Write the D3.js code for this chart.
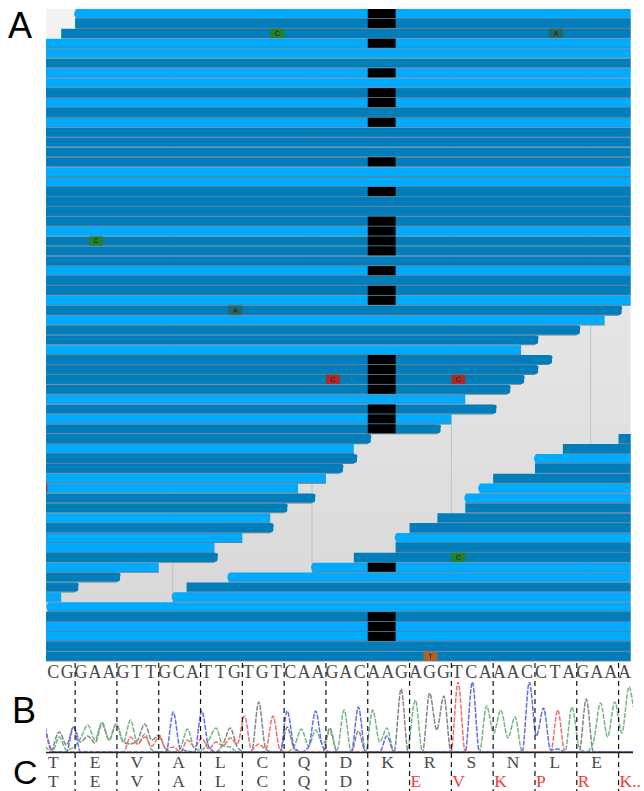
<!DOCTYPE html>
<html>
<head>
<meta charset="utf-8">
<script src="https://cdnjs.cloudflare.com/ajax/libs/d3/7.8.5/d3.min.js"></script>
<style>
  html, body { margin: 0; padding: 0; background: #fff; }
  svg { display: block; }
</style>
</head>
<body>
<div id="chart"></div>
<script>
// reference sequence under the alignment
const sequence = "CGGAAGTTGCATTGTGTCAAGACAAGAGGTCAAACCTAGAAA".split("");
const aminoRef = ["T","E","V","A","L","C","Q","D","K","R","S","N","L","E"];
const aminoMutBlack = ["T","E","V","A","L","C","Q","D"];
const aminoMutRed = ["E","V","K","P","R","K"];

// strand of the first read on each row, F = light, R = dark
const rowStrands = "FRRFFRFFRFRFRRRRFFRRRRFRRRFRRFRFRRFRRRRFRFRRFRRFFRRFRFFRFRRFFRFFRR".split("");
const rowStarts = [2, 2, 1];   // rows 0-2 start late, all others run off the left edge
rowStarts[60] = 0;

// rows 30-59: base where the first read stops
const firstEnds = [41,40,38,35,34,36,35,34,33,30,32,29,28,23,22,22,21,20,18,19,17,16,16,14,12,12,8,5,2,1];
// rows 43-59: base where the second read starts, and its strand
const secondStarts = [41,37,35,35,32,31,30,30,28,26,25,25,22,19,13,10,9];
const secondStrands = "RRFRRFFRRRFRRFFRF".split("");

// rows carrying the two base deletion
const deletionRows = [0,1,3,6,8,9,11,15,18,21,22,23,24,26,28,29,35,36,37,38,40,41,42,56,61,62,63];
const deletionBases = [23, 25];

const mismatchRows = [2, 2, 23, 30, 37, 37, 48, 55, 65];
const mismatchBases = [16, 36, 3, 13, 20, 29, -1, 29, 27];
const mismatchLetters = ["C","A","C","A","C","C","C","C","T"];

// grid lines every ten bases
const gridBases = [9, 19, 29, 39];
// codon boundaries
const codonBases = [2,5,8,11,14,17,20,23,26,29,32,35,38,41];

// chromatogram traces as [peak number, signal]
const traceA = [[-1,6],[-0.5,0],[0,15],[0.5,2],[1,5],[1.5,14],[2,27],[2.5,12],[3,30],[3.5,12],[4,28],[4.5,10],[5,32],[5.5,8],[6,18],[6.5,2],[7,0],[8,0],[8.5,4],[9,23],[9.5,3],[10,2],[10.5,12],[11,24],[11.5,6],[12,5],[12.5,0],[16,0],[16.5,6],[17,23],[17.5,6],[18,22],[18.5,8],[19,20],[19.5,2],[20,42],[20.5,0],[21.5,0],[22,42],[22.5,10],[23,24],[23.5,0],[24.4,0],[25,52],[25.5,0],[29.5,0],[30,46],[30.5,19],[31,42],[31.5,14],[32,35],[32.5,0],[35.5,0],[36,45],[36.5,5],[37,0],[37.5,10],[38,49],[38.5,15],[39,50],[39.5,19],[40,65],[40.3,45]];
const traceC = [[-1,25],[-0.4,0],[0.5,0],[1,25],[1.5,0],[7.5,0],[8,40],[8.5,3],[9.5,0],[10,41],[10.5,5],[11,0],[15.5,0],[16,41],[16.5,5],[17,0],[17.5,5],[18,41],[18.5,5],[19,0],[20.5,0],[21,45],[21.5,0],[22.5,0],[23,16],[23.5,0],[28.5,0],[29,70],[29.5,0],[32.5,0],[33,70],[33.5,16],[34,44],[34.5,2],[35,3],[35.5,0],[40.3,0]];
const traceG = [[-0.5,0],[0,20],[0.5,7],[1,25],[1.5,10],[2,16],[2.5,9],[3,28],[3.5,12],[4,28],[4.5,10],[5,8],[5.5,12],[6,28],[6.5,12],[7,17],[7.5,2],[8,0],[11,0],[11.5,8],[12,24],[12.5,5],[13,0],[13.5,0],[14,50],[14.5,3],[15,0],[15.5,0],[16,25],[16.5,3],[17,0],[18.5,0],[19,24],[19.5,0],[20.5,0],[21,21],[21.5,0],[23.5,0],[24,63],[24.5,0],[25.5,0],[26,59],[26.5,22],[27,56],[27.5,0],[36.5,0],[37,53],[37.5,0],[40.3,0]];
const traceT = [[-1,25],[-0.5,0],[4.5,0],[5,15],[5.5,8],[6,15],[6.5,6],[7,15],[7.5,3],[8,5],[8.5,0],[9,12],[9.5,5],[10,14],[10.5,3],[11,10],[11.5,6],[12,14],[12.5,8],[13,36],[13.5,2],[14,8],[14.5,3],[15,36],[15.5,2],[16,0],[27.5,0],[28,70],[28.5,0],[34.5,0],[35,42],[35.5,0],[40.3,0]];
const traces = [traceG, traceA, traceT, traceC];
const traceColors = ["#858585", "#72b884", "#ef7070", "#626fe2"];

const panelLabels = ["A", "B", "C"];
const panelLabelX = [8, 12, 13];
const panelLabelY = [38, 723, 783.5];
const panelLabelSize = [36, 36, 34];

const lightBlue = "#00aaff";
const darkBlue = "#007dbb";
const rowLine = "#5d8098";

const width = 644, height = 791;
const svg = d3.select("#chart").append("svg")
  .attr("width", width)
  .attr("height", height)
  .style("font-family", "'Liberation Serif', serif");

const x = d3.scaleLinear().domain([-0.09, 41.87]).range([46, 630.7]);
const y = d3.scaleBand().domain(d3.range(rowStrands.length)).range([9, 661.5]);
const strandColor = d3.scaleOrdinal().domain(["F", "R"]).range([lightBlue, darkBlue]);
const mismatchColor = d3.scaleOrdinal()
  .domain(["g", "t", "r", "o"])
  .range(["#25802c", "#2a6468", "#ad2a26", "#b3632a"]);
const mismatchKind = ["g", "t", "g", "t", "r", "r", "r", "g", "o"];

// build the reads from the row arrays
let reads = [];
rowStrands.forEach((s, i) => {
  reads.push({
    row: i,
    start: rowStarts[i] !== undefined ? rowStarts[i] : -2,
    end: i >= 30 && i < 60 ? firstEnds[i - 30] : 44,
    strand: s
  });
});
secondStarts.forEach((b, i) => {
  reads.push({ row: 43 + i, start: b, end: 44, strand: secondStrands[i] });
});

// forward reads get a tip on the left, reverse reads on the right
const readPath = function (d) {
  const x0 = x(d.start), x1 = x(d.end);
  const top = y(d.row), h = y.bandwidth() - 0.6, bot = top + h, mid = top + h / 2;
  if (d.strand === "F") {
    return `M${x1},${top}L${x0 + 1},${top}Q${x0 - 3},${mid} ${x0 + 1},${bot}L${x1},${bot}Z`;
  }
  return `M${x0},${top}L${x1},${top}Q${x1 + 5},${top} ${x1 + 3},${mid}Q${x1 + 4},${bot} ${x1},${bot}L${x0},${bot}Z`;
};

const defs = svg.append("defs");
const grad = defs.append("linearGradient")
  .attr("id", "back").attr("x1", 0).attr("x2", 0).attr("y1", 0).attr("y2", 1);
grad.append("stop").attr("offset", "0%").attr("stop-color", "#f3f3f3");
grad.append("stop").attr("offset", "100%").attr("stop-color", "#d6d6d6");
defs.append("clipPath").attr("id", "panel")
  .append("rect")
  .attr("x", x.range()[0]).attr("y", y.range()[0])
  .attr("width", x.range()[1] - x.range()[0])
  .attr("height", y.range()[1] - y.range()[0]);
defs.append("clipPath").attr("id", "traceClip")
  .append("rect").attr("x", 46).attr("y", 670).attr("width", 587).attr("height", 82);
defs.append("filter").attr("id", "soft")
  .attr("x", 0).attr("y", 0).attr("width", 1).attr("height", 1)
  .append("feGaussianBlur").attr("stdDeviation", 0.55);
defs.append("filter").attr("id", "softTrace")
  .attr("x", 0).attr("y", 0).attr("width", 1).attr("height", 1)
  .append("feGaussianBlur").attr("stdDeviation", 0.3);

// Panel A
const blurred = svg.append("g").attr("filter", "url(#soft)");
const panelA = blurred.append("g").attr("clip-path", "url(#panel)");

panelA.append("rect")
  .attr("x", x.range()[0]).attr("y", y.range()[0])
  .attr("width", x.range()[1] - x.range()[0])
  .attr("height", y.range()[1] - y.range()[0])
  .attr("fill", "url(#back)");

panelA.append("g")
  .attr("stroke", "#c2c2c2")
  .attr("stroke-width", 1)
  .selectAll("line")
  .data(gridBases)
  .join("line")
    .attr("x1", d => x(d)).attr("x2", d => x(d))
    .attr("y1", y.range()[0]).attr("y2", y.range()[1]);

panelA.append("g")
  .selectAll("path")
  .data(reads)
  .join("path")
    .attr("d", readPath)
    .attr("fill", d => strandColor(d.strand));

panelA.append("g")
  .attr("stroke", rowLine)
  .attr("stroke-width", 1.1)
  .selectAll("line")
  .data(reads)
  .join("line")
    .attr("x1", d => x(d.start))
    .attr("x2", d => x(d.end))
    .attr("y1", d => y(d.row) + y.bandwidth() - 0.4)
    .attr("y2", d => y(d.row) + y.bandwidth() - 0.4);

panelA.append("g")
  .attr("fill", "#000")
  .selectAll("rect")
  .data(deletionRows)
  .join("rect")
    .attr("x", x(deletionBases[0]))
    .attr("width", x(deletionBases[1]) - x(deletionBases[0]))
    .attr("y", d => y(d))
    .attr("height", y.bandwidth() - 0.8);

const marks = panelA.append("g")
  .selectAll("g")
  .data(mismatchRows.map((r, i) => ({
    row: r, base: mismatchBases[i], letter: mismatchLetters[i], kind: mismatchKind[i]
  })))
  .join("g");
marks.append("rect")
  .attr("x", d => x(d.base))
  .attr("width", x(1) - x(0))
  .attr("y", d => y(d.row))
  .attr("height", y.bandwidth() - 0.8)
  .attr("fill", d => mismatchColor(d.kind));
marks.append("text")
  .attr("x", d => x(d.base + 0.5))
  .attr("y", d => y(d.row) + 7)
  .attr("text-anchor", "middle")
  .attr("font-size", 7)
  .attr("font-family", "'Liberation Sans', sans-serif")
  .attr("fill", "#11221a")
  .text(d => d.letter);

// Panel B, chromatogram
const traceX = d3.scaleLinear().domain([0, 40]).range([59.3, 629]);
const traceY = d3.scaleLinear().domain([0, 70]).range([752, 682]);
const traceLine = d3.line()
  .x(d => traceX(d[0]))
  .y(d => traceY(d[1]))
  .curve(d3.curveMonotoneX);

svg.append("g")
  .attr("filter", "url(#softTrace)")
  .append("g")
  .attr("clip-path", "url(#traceClip)")
  .attr("fill", "none")
  .attr("stroke-width", 1.5)
  .attr("stroke-dasharray", "5 1.3")
  .selectAll("path")
  .data(traces)
  .join("path")
    .attr("d", traceLine)
    .attr("stroke", (d, i) => traceColors[i]);

svg.append("line")
  .attr("x1", 46).attr("x2", 633)
  .attr("y1", 752.5).attr("y2", 752.5)
  .attr("stroke", "#222")
  .attr("stroke-width", 1.3);

svg.append("g")
  .attr("font-size", 18)
  .attr("fill", "#4a4a4a")
  .attr("text-anchor", "middle")
  .selectAll("text")
  .data(sequence)
  .join("text")
    .attr("x", (d, i) => x(i + 0.43))
    .attr("y", 678)
    .text(d => d);

// codon separators run through panels B and C
svg.append("g")
  .attr("stroke", "#111")
  .attr("stroke-width", 1.2)
  .attr("stroke-dasharray", "5 4")
  .selectAll("line")
  .data(codonBases)
  .join("line")
    .attr("x1", d => x(d)).attr("x2", d => x(d))
    .attr("y1", 663).attr("y2", 791);

// Panel C, translations
const aaX = i => x(0.43 + 3 * i);
svg.append("g")
  .attr("font-size", 17.5)
  .attr("fill", "#4a4a4a")
  .attr("text-anchor", "middle")
  .selectAll("text")
  .data(aminoRef)
  .join("text")
    .attr("x", (d, i) => aaX(i))
    .attr("y", 767.5)
    .text(d => d);

svg.append("g")
  .attr("font-size", 17.5)
  .attr("fill", "#4a4a4a")
  .attr("text-anchor", "middle")
  .selectAll("text")
  .data(aminoMutBlack)
  .join("text")
    .attr("x", (d, i) => aaX(i))
    .attr("y", 787)
    .text(d => d);

svg.append("g")
  .attr("font-size", 17.5)
  .attr("fill", "#f23c3c")
  .selectAll("text")
  .data(aminoMutRed)
  .join("text")
    .attr("x", (d, i) => x(codonBases[8 + i]) + 1)
    .attr("y", 787)
    .text((d, i) => i === aminoMutRed.length - 1 ? d + ".." : d);

// panel letters
svg.append("g")
  .attr("font-family", "'Liberation Sans', Arial, sans-serif")
  .attr("fill", "#000")
  .selectAll("text")
  .data(panelLabels)
  .join("text")
    .attr("x", (d, i) => panelLabelX[i])
    .attr("y", (d, i) => panelLabelY[i])
    .attr("font-size", (d, i) => panelLabelSize[i])
    .text(d => d);
</script>
</body>
</html>
